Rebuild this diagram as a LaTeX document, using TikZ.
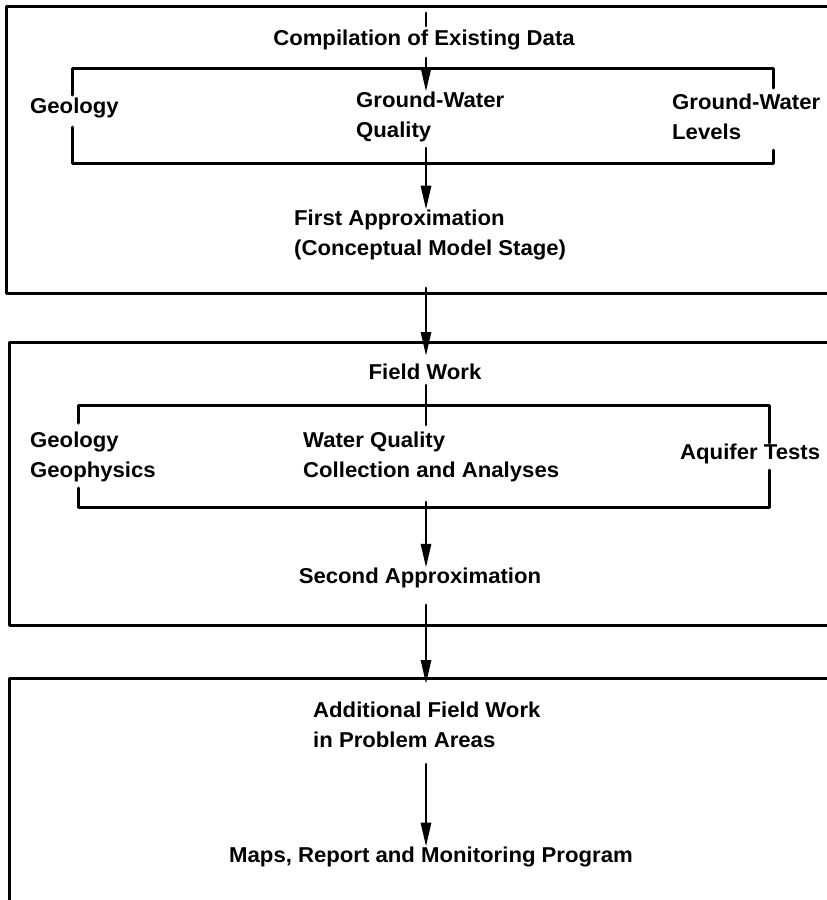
\documentclass[tikz,border=0pt]{standalone}
\usepackage{fontspec}
\setmainfont{Liberation Sans}[FakeStretch=1.03]
\usetikzlibrary{arrows.meta}
\newcommand{\chartfont}{\fontsize{21.5}{30}\selectfont\bfseries}
\begin{document}
\begin{tikzpicture}[x=1pt,y=-1pt,>={Triangle[length=24pt,width=10pt]},line join=round,line cap=round,
		every node/.style={font=\chartfont,inner sep=0pt},
		lbl/.style={align=left,anchor=west},
		frame/.style={line width=3pt},
		link/.style={line width=2.8pt}]
	\useasboundingbox (0,0) rectangle (827,900);
	% frames, open at the right side
	\draw[frame] (830,6) -- (6,6) -- (6,293) -- (830,293);
	\draw[frame] (830,342) -- (9,342) -- (9,625) -- (830,625);
	\draw[frame] (830,678) -- (9,678) -- (9,905);
	% first stage
	\node (comp) at (424,40) {Compilation of Existing Data};
	\node[lbl] (geoA) at (30,108) {Geology};
	\node[lbl] (gwq) at (356,117) {Ground-Water\\Quality};
	\node[lbl] (gwl) at (672,117) {Ground-Water\\Levels};
	\node[lbl] (first) at (294,235) {First Approximation\\(Conceptual Model Stage)};
	\coordinate (tick) at (426,13);
	\coordinate (brA) at (426,148);
	\coordinate (outA) at (426,288);
	\draw[link] (tick) -- (426,26);
	\draw[frame] (72,95) -- (72,68) -- (773,68) -- (773,88);
	\draw[frame] (72,127) -- (72,163) -- (773,163) -- (773,150);
	\draw[link,->] (426,58) -- (tick |- gwq.north);
	\draw[link,->] (brA) -- (tick |- first.north);
	% second stage
	\node (field) at (425,372) {Field Work};
	\node[lbl] (geoB) at (30,457) {Geology\\Geophysics};
	\node[lbl] (wq) at (303,457) {Water Quality\\Collection and Analyses};
	\node[lbl] (aq) at (680,454) {Aquifer Tests};
	\node (second) at (420,578) {Second Approximation};
	\coordinate (brB) at (426,502);
	\coordinate (outB) at (426,605);
	\draw[link,->] (outA) -- (426,356);
	\draw[link] (tick |- field.south) ++(0,5) -- (426,425);
	\draw[frame] (78,423) -- (78,405) -- (769,405) -- (769,443);
	\draw[frame] (78,488) -- (78,507) -- (769,507) -- (769,470);
	\draw[link,->] (brB) -- (tick |- second.north);
	% third stage
	\node[lbl] (add) at (313,725) {Additional Field Work\\in Problem Areas};
	\node (maps) at (431,857) {Maps, Report and Monitoring Program};
	\draw[link,->] (outB) -- (426,684);
	\draw[link,->] ([yshift=-16pt]tick |- add.south) -- (tick |- maps.north);
\end{tikzpicture}
\end{document}
